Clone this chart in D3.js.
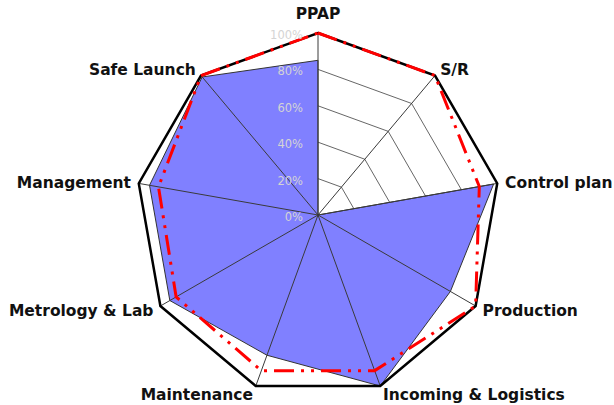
<!DOCTYPE html>
<html>
<head>
<meta charset="utf-8">
<script src="https://cdn.jsdelivr.net/npm/d3@7"></script>
<style>
  html, body { margin: 0; padding: 0; background: #fff; }
  svg { display: block; }
</style>
</head>
<body>
<figure id="radar" style="margin:0"></figure>
<script>
const categories = ["PPAP", "S/R", "Control plan", "Production", "Incoming & Logistics",
  "Maintenance", "Metrology & Lab", "Management", "Safe Launch"]
const actual = [0.85, 0, 0.98, 0.84, 1.0, 0.82, 0.94, 0.94, 0.99]
const plan = [1.0, 1.0, 0.90, 1.0, 0.91, 0.91, 0.90, 0.89, 1.0]
const target = [1, 1, 1, 1, 1, 1, 1, 1, 1]
const ticks = [0, 0.2, 0.4, 0.6, 0.8, 1.0]

const width = 614
const height = 405
const cx = 318, cy = 215

const r = d3.scaleLinear().domain([0, 1]).range([0, 182])
const angle = d3.scaleLinear().domain([0, categories.length]).range([0, 2 * Math.PI])

const svg = d3.select("figure#radar")
  .append("svg")
    .attr("width", width)
    .attr("height", height)

const g = svg.append("g").attr("transform", `translate(${cx},${cy})`)

const radial = d3.lineRadial()
  .angle((d, i) => angle(i))
  .radius(d => r(d))
  .curve(d3.curveLinearClosed)

const pt = (i, v) => {
  const a = angle(i)
  return [Math.sin(a) * r(v), -Math.cos(a) * r(v)]
}

// rings (hidden under the fill)
g.append("g")
  .selectAll("path")
  .data(ticks.slice(1))
  .join("path")
    .attr("d", t => radial(categories.map(() => t)))
    .attr("fill", "none")
    .attr("stroke", "#555")
    .attr("stroke-width", 0.9)

// filled series
g.append("path")
  .attr("d", radial(actual))
  .attr("fill", "#8080ff")
  .attr("stroke", "#333")
  .attr("stroke-width", 1)

// spokes
g.append("g")
  .selectAll("line")
  .data(categories)
  .join("line")
    .attr("x1", 0).attr("y1", 0)
    .attr("x2", (d, i) => pt(i, 1)[0])
    .attr("y2", (d, i) => pt(i, 1)[1])
    .attr("stroke", "#3a3a3a")
    .attr("stroke-width", 1)

// target line
g.append("path")
  .attr("d", radial(target))
  .attr("fill", "none")
  .attr("stroke", "#000")
  .attr("stroke-width", 2.5)
  .attr("stroke-linejoin", "miter")

// plan line
g.append("path")
  .attr("d", radial(plan))
  .attr("fill", "none")
  .attr("stroke", "#ff0000")
  .attr("stroke-width", 3)
  .attr("stroke-dasharray", "20,7,3,7,3,7")

// tick labels
g.append("g")
    .attr("font-family", "DejaVu Sans, sans-serif")
    .attr("font-size", 11.5)
    .attr("fill", "#d4d4d4")
    .attr("text-anchor", "end")
  .selectAll("text")
  .data(ticks)
  .join("text")
    .attr("x", -15)
    .attr("y", t => -r(t) + 2)
    .attr("dominant-baseline", "central")
    .text(d3.format(".0%"))

// category labels
g.append("g")
    .attr("font-family", "DejaVu Sans, sans-serif")
    .attr("font-size", 15.5)
    .attr("font-weight", "bold")
    .attr("fill", "#111")
  .selectAll("text")
  .data(categories)
  .join("text")
    .attr("x", (d, i) => pt(i, 1)[0] + Math.sin(angle(i)) * 8)
    .attr("y", (d, i) => {
      const c = Math.cos(angle(i))
      return pt(i, 1)[1] - c * 8 - (c > 0.95 ? 12 : 0) + 6
    })
    .attr("text-anchor", (d, i) => {
      const s = Math.sin(angle(i))
      return s > 0.1 ? "start" : s < -0.1 ? "end" : "middle"
    })
    .text(d => d)
</script>
</body>
</html>
